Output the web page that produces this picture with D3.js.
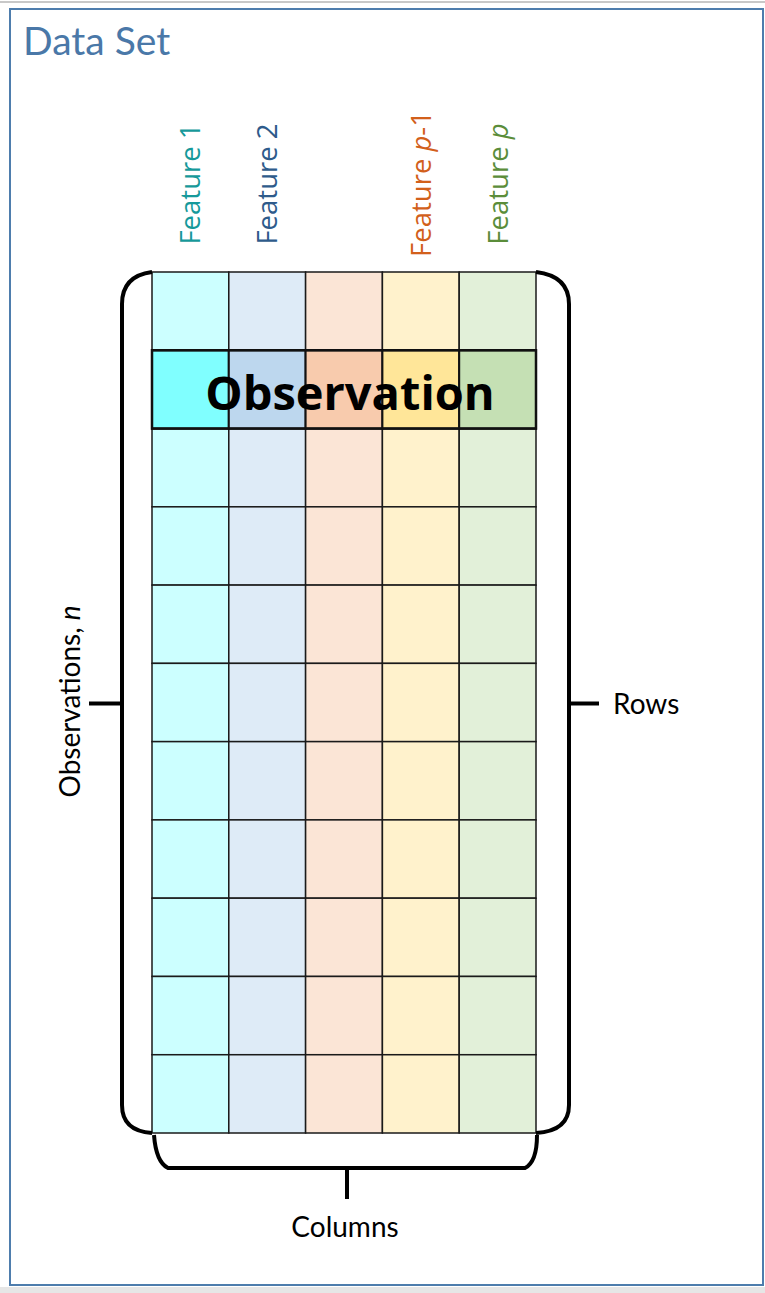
<!DOCTYPE html>
<html>
<head>
<meta charset="utf-8">
<script src="https://cdn.jsdelivr.net/npm/d3@7"></script>
<style>
  body { margin: 0; background: #fff; }
  svg { display: block; }
</style>
</head>
<body>
<svg id="chart" width="765" height="1293"></svg>
<script>
(function() {

// Columns (features) and their labels; the middle column has no label
var features = ["1", "2", "", "p-1", "p"];
var labelColors = ["#16999a", "#2e5b8b", "", "#d2601b", "#5b8d3a"];
// Light fill per column and the stronger fill used in the highlighted row
var lightFills = ["#ccffff", "#deebf7", "#fbe5d6", "#fff2cc", "#e2f0d9"];
var strongFills = ["#80ffff", "#bdd7ee", "#f8cbad", "#ffe699", "#c5e0b4"];
// Rows (observations)
var rows = d3.range(11);
var highlightRow = 1;

var width = 765;
var height = 1293;

const svg = d3.select("#chart");

// Frame: thin gray rule at the top, blue border, gray strip at the bottom
svg.append("line")
  .attr("x1", 0).attr("x2", width)
  .attr("y1", 2).attr("y2", 2)
  .attr("stroke", "#c8c8c8").attr("stroke-width", 2);

svg.append("rect")
  .attr("x", 0).attr("y", 1287)
  .attr("width", width).attr("height", 6)
  .attr("fill", "#e6e6e6");

svg.append("rect")
  .attr("x", 10).attr("y", 9)
  .attr("width", 753).attr("height", 1276)
  .attr("fill", "none")
  .attr("stroke", "#4e7dad")
  .attr("stroke-width", 2);

// Title
svg.append("text")
  .attr("x", 23).attr("y", 55)
  .attr("font-family", "Lato, sans-serif")
  .attr("font-size", "39px")
  .attr("fill", "#4a78a8")
  .text("Data Set");

// Scales for the grid
var x = d3.scaleBand()
  .domain(d3.range(features.length))
  .range([152, 536]);

var y = d3.scaleBand()
  .domain(rows)
  .range([272, 1133]);

var x0 = x.range()[0], x1 = x.range()[1];
var y0 = y.range()[0], y1 = y.range()[1];

// Cells
var cells = [];
rows.forEach(function(r) {
  features.forEach(function(f, c) {
    cells.push({ row: r, col: c });
  });
});

svg.append("g")
  .selectAll("rect")
  .data(cells.filter(function(d) { return d.row !== highlightRow; }))
  .enter()
  .append("rect")
  .attr("x", function(d) { return x(d.col); })
  .attr("y", function(d) { return y(d.row); })
  .attr("width", x.bandwidth())
  .attr("height", y.bandwidth())
  .attr("fill", function(d) { return lightFills[d.col]; })
  .attr("stroke", "#1a1a1a")
  .attr("stroke-width", 1.5);

// Highlighted observation row
svg.append("g")
  .selectAll("rect")
  .data(cells.filter(function(d) { return d.row === highlightRow; }))
  .enter()
  .append("rect")
  .attr("x", function(d) { return x(d.col); })
  .attr("y", function(d) { return y(d.row); })
  .attr("width", x.bandwidth())
  .attr("height", y.bandwidth())
  .attr("fill", function(d) { return strongFills[d.col]; })
  .attr("stroke", "#111")
  .attr("stroke-width", 2);

svg.append("rect")
  .attr("x", x0).attr("y", y(highlightRow))
  .attr("width", x1 - x0).attr("height", y.bandwidth())
  .attr("fill", "none")
  .attr("stroke", "#111")
  .attr("stroke-width", 2.5);

svg.append("text")
  .attr("x", (x0 + x1) / 2 + 6)
  .attr("y", y(highlightRow) + y.bandwidth() / 2 + 21)
  .attr("text-anchor", "middle")
  .attr("font-family", "'Open Sans', sans-serif")
  .attr("font-weight", "bold")
  .attr("font-size", "47px")
  .attr("fill", "#000")
  .text("Observation");

// Feature labels, rotated
var labels = svg.append("g")
  .selectAll("text")
  .data(features.map(function(f, i) { return { name: f, col: i }; })
    .filter(function(d) { return d.name !== ""; }))
  .enter()
  .append("text")
  .attr("transform", function(d) {
    return "translate(" + (x(d.col) + x.bandwidth() / 2 + 10) + ",184) rotate(-90)";
  })
  .attr("text-anchor", "middle")
  .attr("font-family", "'Open Sans', sans-serif")
  .attr("font-size", "27.5px")
  .attr("fill", function(d) { return labelColors[d.col]; });

labels.append("tspan").text("Feature ");
labels.append("tspan")
  .attr("font-style", function(d) { return d.name.charAt(0) === "p" ? "italic" : null; })
  .text(function(d) { return d.name.charAt(0) === "p" ? "p" : d.name; });
labels.append("tspan")
  .text(function(d) { return d.name.charAt(0) === "p" ? d.name.slice(1) : ""; });

// Brackets
var bracket = svg.append("g")
  .attr("fill", "none")
  .attr("stroke", "#000")
  .attr("stroke-width", 4)
  .attr("stroke-linejoin", "round");

var lx = x0 - 30, rx = x1 + 33, by = y1 + 35;
var midY = (y0 + y1) / 2;

bracket.append("path")
  .attr("d", "M" + x0 + "," + y0 +
    " Q" + lx + "," + (y0 + 4) + " " + lx + "," + (y0 + 32) +
    " L" + lx + "," + (y1 - 28) +
    " Q" + lx + "," + (y1 - 2) + " " + x0 + "," + y1);

bracket.append("path")
  .attr("d", "M" + x1 + "," + y0 +
    " Q" + rx + "," + (y0 + 4) + " " + rx + "," + (y0 + 32) +
    " L" + rx + "," + (y1 - 28) +
    " Q" + rx + "," + (y1 - 2) + " " + x1 + "," + y1);

bracket.append("path")
  .attr("d", "M" + (x0 + 2) + "," + (y1 + 2) +
    " Q" + (x0 + 4) + "," + (by - 6) + " " + (x0 + 16) + "," + by +
    " L" + (x1 - 11) + "," + by +
    " Q" + (x1 + 1) + "," + (by - 6) + " " + (x1 + 1) + "," + (y1 + 2));

// Bracket ticks
bracket.append("line")
  .attr("x1", lx - 33).attr("x2", lx)
  .attr("y1", midY + 1).attr("y2", midY + 1);
bracket.append("line")
  .attr("x1", rx).attr("x2", rx + 30)
  .attr("y1", midY + 1).attr("y2", midY + 1);
bracket.append("line")
  .attr("x1", (x0 + x1) / 2 + 3).attr("x2", (x0 + x1) / 2 + 3)
  .attr("y1", by).attr("y2", by + 31);

// Bracket labels
var side = svg.append("text")
  .attr("transform", "translate(80," + (midY - 1) + ") rotate(-90)")
  .attr("text-anchor", "middle")
  .attr("font-family", "Lato, sans-serif")
  .attr("font-size", "28px")
  .attr("fill", "#000");
side.append("tspan").text("Observations, ");
side.append("tspan").attr("font-style", "italic").text("n");

svg.append("text")
  .attr("x", rx + 44).attr("y", midY + 11)
  .attr("font-family", "Lato, sans-serif")
  .attr("font-size", "28px")
  .attr("fill", "#000")
  .text("Rows");

svg.append("text")
  .attr("x", (x0 + x1) / 2 + 1).attr("y", by + 69)
  .attr("text-anchor", "middle")
  .attr("font-family", "Lato, sans-serif")
  .attr("font-size", "28px")
  .attr("fill", "#000")
  .text("Columns");

})();
</script>
</body>
</html>
